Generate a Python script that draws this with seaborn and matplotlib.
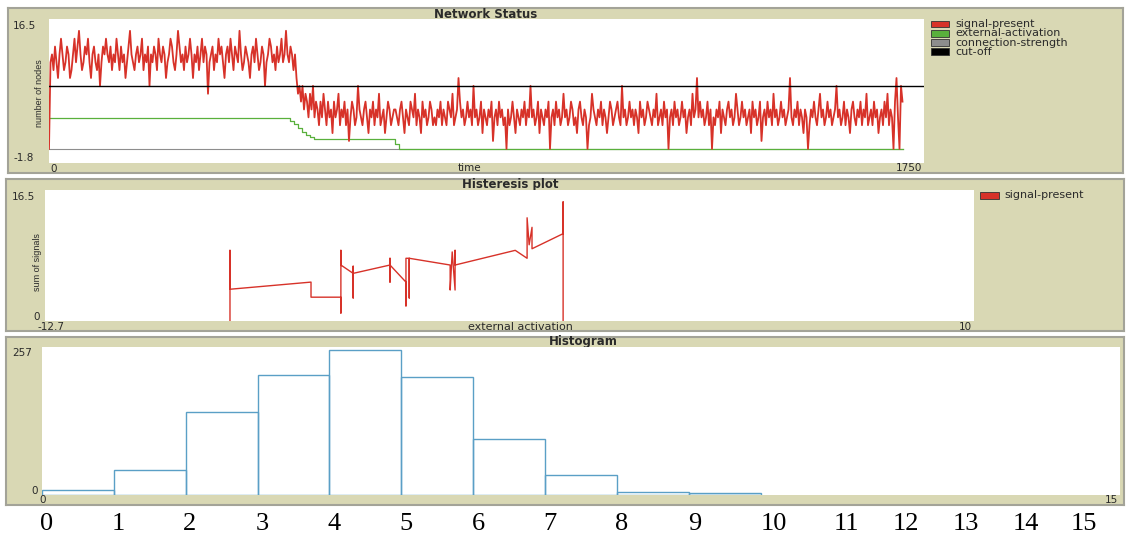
import numpy as np
import pandas as pd
import matplotlib
matplotlib.use("Agg")
import matplotlib.pyplot as plt
from matplotlib.patches import Rectangle
import seaborn as sns

W, H = 1127, 539

# ---- values ----
# Network Status: number of signalling nodes, one value every 3 ticks
time_step = 3
signal_high = [
    0, 11, 12, 10, 13, 11, 9, 12, 14, 12, 10, 11, 13, 12, 9,
    10, 12, 14, 11, 13, 15, 12, 10, 11, 13, 12, 14, 11, 9, 12,
    13, 11, 10, 12, 8, 11, 13, 12, 14, 12, 11, 13, 10, 12, 11,
    14, 12, 10, 13, 11, 12, 9, 11, 13, 15, 12, 11, 10, 12, 13,
    11, 12, 14, 10, 12, 11, 13, 8, 12, 11, 13, 12, 10, 14, 12,
    11, 13, 12, 9, 11, 12, 14, 13, 11, 10, 12, 15, 13, 11, 12,
    10, 13, 11, 12, 14, 12, 9, 12, 11, 13, 10, 12, 14, 11, 13,
    12, 7, 11, 12, 13, 10, 12, 11, 14, 12, 13, 11, 9, 12, 13,
    11, 14, 12, 10, 13, 12, 11, 15, 12, 10, 11, 13, 12, 11, 9,
    12, 13, 11, 14, 12, 10, 11, 13, 12, 8, 11, 12, 14, 13, 11,
    12, 10, 13, 11, 12, 14, 11, 12, 15, 12, 11, 13, 12, 10, 12,
]
signal_low = [
    9, 7, 8, 6, 8, 5, 7, 6, 4, 7, 5, 8, 4, 6, 5,
    3, 6, 4, 7, 5, 3, 6, 4, 5, 2, 6, 4, 5, 7, 3,
    5, 4, 6, 3, 5, 1, 4, 6, 5, 3, 4, 8, 5, 4, 3,
    5, 6, 4, 2, 5, 4, 6, 3, 5, 4, 7, 3, 4, 5, 2,
    4, 6, 5, 3, 4, 5, 5, 4, 3, 5, 6, 4, 2, 5, 4,
    3, 6, 5, 4, 7, 3, 5, 4, 2, 6, 4, 5, 3, 4, 6,
    5, 3, 4, 3, 5, 4, 6, 3, 5, 4, 3, 6, 5, 4, 7,
    3, 4, 5, 9, 6, 4, 5, 3, 4, 6, 4, 5, 3, 8, 4,
    5, 3, 4, 6, 2, 5, 4, 3, 5, 4, 6, 1, 4, 5, 3,
    6, 4, 5, 3, 4, 0, 5, 3, 4, 6, 4, 2, 5, 4, 3,
    5, 4, 6, 3, 5, 4, 8, 4, 5, 3, 4, 6, 2, 5, 4,
    3, 5, 4, 6, 0, 4, 5, 3, 6, 4, 5, 3, 4, 7, 4,
    5, 3, 4, 6, 5, 3, 4, 2, 5, 6, 4, 3, 5, 4, 0,
    3, 4, 7, 5, 4, 3, 5, 4, 6, 3, 5, 4, 2, 4, 6,
    5, 3, 4, 5, 6, 4, 3, 8, 4, 5, 3, 4, 6, 4, 5,
    3, 5, 4, 2, 6, 4, 5, 3, 4, 6, 5, 4, 3, 5, 4,
    7, 3, 4, 5, 3, 6, 4, 5, 0, 4, 5, 3, 6, 4, 5,
    3, 4, 6, 4, 5, 2, 4, 5, 3, 7, 4, 5, 9, 4, 6,
    4, 5, 3, 4, 6, 3, 5, 0, 4, 3, 5, 4, 6, 2, 5,
    4, 3, 5, 6, 4, 5, 3, 4, 7, 5, 3, 4, 6, 4, 5,
    3, 4, 5, 2, 6, 4, 5, 3, 4, 6, 1, 4, 5, 3, 6,
    4, 5, 3, 7, 4, 5, 3, 4, 6, 4, 5, 3, 4, 5, 9,
    4, 3, 5, 4, 6, 3, 5, 4, 2, 5, 4, 0, 3, 5, 4,
    6, 4, 3, 5, 7, 4, 5, 3, 4, 6, 4, 5, 3, 4, 5,
    8, 4, 5, 3, 4, 6, 3, 5, 4, 2, 5, 6, 4, 3, 5,
    4, 6, 3, 5, 4, 7, 3, 4, 5, 3, 6, 4, 5, 2, 4,
    5, 3, 6, 4, 7, 3, 5, 4, 0, 6, 9, 4, 0, 8, 6,
]
ext_time = [0, 482, 490, 498, 506, 514, 522, 530, 692, 700, 1708]
ext_value = [3.9, 3.6, 3.1, 2.6, 2.2, 1.8, 1.5, 1.25, 0.6, 0.0, 0.0]
conn_time = [0, 1708]
conn_value = [0.0, 0.0]
cut_off = 8

# Histeresis plot: external activation vs sum of signals
hyst_act = [-8.18, -8.18, -8.18, -6.20, -6.20, -5.47, -5.47, -5.47, -5.47,
            -5.17, -5.17, -5.17, -5.17, -4.27, -4.27, -4.27, -4.27,
            -3.88, -3.88, -3.88, -3.80, -3.80, -3.80, -2.80, -2.80, -2.75,
            -2.68, -2.68, -2.68, -1.21, -0.92, -0.92, -0.87, -0.80, -0.80,
            -0.04, -0.04, -0.04]
hyst_sum = [0.0, 8.9, 4.0, 4.9, 3.0, 3.0, 1.0, 8.9, 7.05,
            6.0, 6.9, 2.9, 6.0, 7.05, 7.9, 4.9, 7.05,
            4.9, 1.9, 7.9, 7.9, 2.9, 7.9, 7.05, 3.9, 8.7,
            3.9, 8.9, 7.05, 8.9, 7.9, 13.0, 9.6, 11.8, 9.1,
            11.0, 15.0, 0.0]

# Histogram counts per unit bin
hist_bins = [0, 1, 2, 3, 4, 5, 6, 7, 8, 9]
hist_counts = [9, 43, 144, 208, 252, 205, 97, 35, 6, 3]

legend1_names = ["signal-present", "external-activation", "connection-strength", "cut-off"]
bottom_labels = [str(i) for i in range(16)]

RED = "#d73229"
GREEN = "#59b03c"
GREY = "#8d8d8d"
SKY = "#5a9fc6"
TAN = "#d9d8b4"
EDGE = "#a3a398"
TXT = "#2a2a2a"

fig = plt.figure(figsize=(W / 100, H / 100), dpi=100)
fig.patch.set_facecolor("white")


def px_axes(x0, y0, x1, y1):
    return fig.add_axes([x0 / W, 1 - y1 / H, (x1 - x0) / W, (y1 - y0) / H])


def frame(x0, y0, x1, y1):
    ax = px_axes(x0, y0, x1, y1)
    ax.set_facecolor(TAN)
    ax.set_xlim(x0, x1)
    ax.set_ylim(y1, y0)
    ax.set_xticks([])
    ax.set_yticks([])
    for s in ax.spines.values():
        s.set_color(EDGE)
        s.set_linewidth(1.5)
    return ax


def plot_area(x0, y0, x1, y1):
    ax = px_axes(x0, y0, x1, y1)
    ax.set_facecolor("white")
    ax.set_xticks([])
    ax.set_yticks([])
    for s in ax.spines.values():
        s.set_visible(False)
    return ax


def small(ax, x, y, s, ha="left", size=7.5):
    ax.text(x, y, s, ha=ha, va="center", fontsize=size, color=TXT,
            family="DejaVu Sans", clip_on=True)


# ---------------- Network Status ----------------
f1 = frame(8, 8, 1123, 173)
a1 = plot_area(49, 19, 924, 163)
signal = signal_high + signal_low
sig_time = np.arange(len(signal)) * time_step
sns.lineplot(x=conn_time, y=conn_value, color=GREY, linewidth=0.8, ax=a1)
sns.lineplot(x=ext_time, y=ext_value, color=GREEN, linewidth=0.9,
             drawstyle="steps-post", ax=a1)
sns.lineplot(x=sig_time, y=signal, color=RED, linewidth=1.3,
             estimator=None, sort=False, ax=a1)
a1.axhline(cut_off, color="black", linewidth=1.0)
a1.set_xlim(0, 1750)
a1.set_ylim(-1.8, 16.5)
a1.set_xlabel("")
a1.set_ylabel("")

f1.text(486, 14, "Network Status", ha="center", va="center", fontsize=8.5,
        fontweight="bold", color=TXT)
small(f1, 13, 26, "16.5")
small(f1, 13, 158, "-1.8")
small(f1, 50, 169, "0")
small(f1, 470, 168, "time", ha="center")
small(f1, 922, 168, "1750", ha="right")
f1.text(40, 93, "number of nodes", rotation=90, ha="center", va="center",
        fontsize=6.5, family="Liberation Sans", color=TXT)
for i, (name, col) in enumerate(zip(legend1_names, [RED, GREEN, GREY, "black"])):
    yc = 24 + i * 9.3
    f1.add_patch(Rectangle((931, yc - 3.5), 18, 7, facecolor=col,
                           edgecolor="#333333", linewidth=0.6))
    small(f1, 955, yc, name, size=8)

# ---------------- Histeresis plot ----------------
f2 = frame(6, 179, 1124, 331)
a2 = plot_area(45, 190, 974, 321)
sns.lineplot(x=hyst_act, y=hyst_sum, color=RED, linewidth=1.0,
             estimator=None, sort=False, ax=a2)
a2.set_xlim(-12.7, 10)
a2.set_ylim(0, 16.5)
a2.set_xlabel("")
a2.set_ylabel("")

f2.text(510, 184, "Histeresis plot", ha="center", va="center", fontsize=8.5,
        fontweight="bold", color=TXT)
small(f2, 12, 197, "16.5")
small(f2, 40, 317, "0", ha="right")
small(f2, 38, 327, "-12.7")
small(f2, 520, 327, "external activation", ha="center", size=8)
small(f2, 972, 327, "10", ha="right")
f2.text(37, 262, "sum of signals", rotation=90, ha="center", va="center",
        fontsize=6.5, family="Liberation Sans", color=TXT)
f2.add_patch(Rectangle((980, 191.5), 19, 7, facecolor=RED,
                       edgecolor="#333333", linewidth=0.6))
small(f2, 1004, 195, "signal-present", size=8)

# ---------------- Histogram ----------------
f3 = frame(6, 337, 1124, 505)
a3 = plot_area(42, 347, 1120, 495)
hist_df = pd.DataFrame({"value": [b + 0.5 for b in hist_bins], "count": hist_counts})
sns.histplot(data=hist_df, x="value", weights="count",
             bins=len(hist_bins), binrange=(0, len(hist_bins)),
             element="bars", fill=False, color=SKY, linewidth=1.0, ax=a3)
a3.set_xlim(0, 15)
a3.set_ylim(0, 257)
a3.set_xlabel("")
a3.set_ylabel("")

f3.text(583, 342, "Histogram", ha="center", va="center", fontsize=8.5,
        fontweight="bold", color=TXT)
small(f3, 12, 353, "257")
small(f3, 38, 491, "0", ha="right")
small(f3, 43, 500, "0", ha="center")
small(f3, 1118, 500, "15", ha="right")

# ---------------- big number row under the histogram ----------------
row = fig.add_axes([0, 0, 1, 1], facecolor="none")
row.set_xlim(0, W)
row.set_ylim(H, 0)
row.axis("off")
row_x = [47, 118, 190, 262, 334, 406, 478, 550, 622, 695, 774, 846, 906, 966, 1026, 1084]
for xx, lab in zip(row_x, bottom_labels):
    row.text(xx, 524, lab, ha="center", va="center", fontsize=19,
             family="Liberation Serif", color="black")

fig.savefig("out.png", dpi=100)
